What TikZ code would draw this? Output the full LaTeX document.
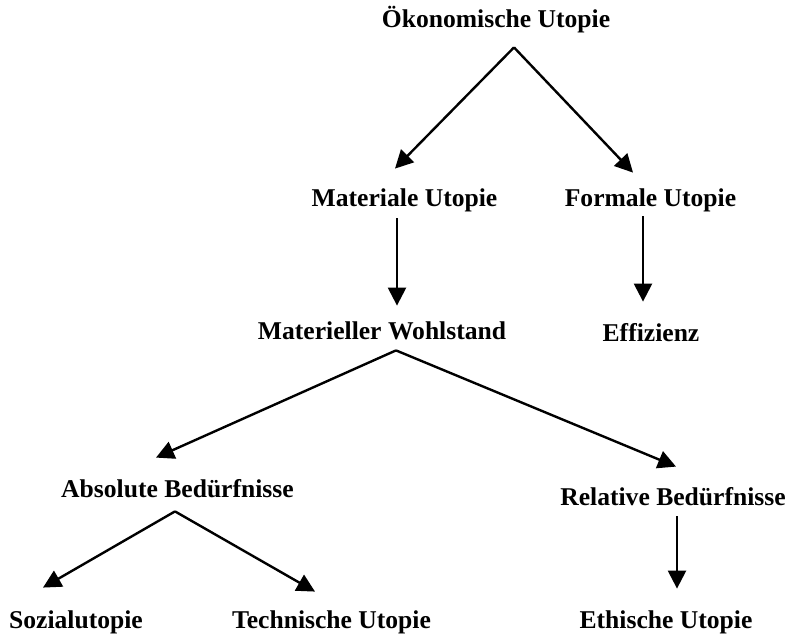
\documentclass[tikz,border=0pt]{standalone}
\usepackage{fontspec}
\setmainfont{Liberation Serif}
\usetikzlibrary{arrows.meta}

\begin{document}
\begin{tikzpicture}[x=0.5pt,y=-0.5pt,>={Triangle[length=9pt,width=9pt]},every node/.append style={align=center},lbl/.style={inner sep=0pt,text height=10pt,text depth=3pt,font=\fontsize{12.8}{15}\selectfont\bfseries},link/.style={->,line width=1.2pt},]
    \useasboundingbox (0,0) rectangle (791,635);
    \node [lbl, anchor=base] (oek)  at (496,28)   {Ökonomische Utopie};
    \node [lbl, anchor=base] (mat)  at (404.5,207) {Materiale Utopie};
    \node [lbl, anchor=base] (form) at (650.5,207) {Formale Utopie};
    \node [lbl, anchor=base] (wohl) at (382,340)  {Materieller Wohlstand};
    \node [lbl, anchor=base] (eff)  at (651,342)  {Effizienz};
    \node [lbl, anchor=base] (abs)  at (177.5,497) {Absolute Bedürfnisse};
    \node [lbl, anchor=base] (rel)  at (673,505)  {Relative Bedürfnisse};
    \node [lbl, anchor=base] (soz)  at (76,628)   {Sozialutopie};
    \node [lbl, anchor=base] (tech) at (331.5,628) {Technische Utopie};
    \node [lbl, anchor=base] (eth)  at (666,628)  {Ethische Utopie};
    \draw[link] ([shift={(18,13)}]oek.south) -- ([shift={(-9.5,-18)}]mat.north);
    \draw[link] ([shift={(18,13)}]oek.south) -- ([shift={(-17.5,-14)}]form.north);
    \draw[link] ([shift={(-7.5,5)}]mat.south) -- ([shift={(15,-14)}]wohl.north);
    \draw[link] ([shift={(-7.5,3)}]form.south) -- ([shift={(-8,-20)}]eff.north);
    \draw[link] ([shift={(14,4)}]wohl.south) -- ([shift={(-21.5,-19)}]abs.north);
    \draw[link] ([shift={(14,4)}]wohl.south) -- ([shift={(3,-18)}]rel.north);
    \draw[link] ([shift={(-2.5,8)}]abs.south) -- ([shift={(-33,-20)}]soz.north);
    \draw[link] ([shift={(-2.5,8)}]abs.south) -- ([shift={(-16.5,-16)}]tech.north);
    \draw[link] ([shift={(4,5)}]rel.south) -- ([shift={(11,-19)}]eth.north);
\end{tikzpicture}
\end{document}
